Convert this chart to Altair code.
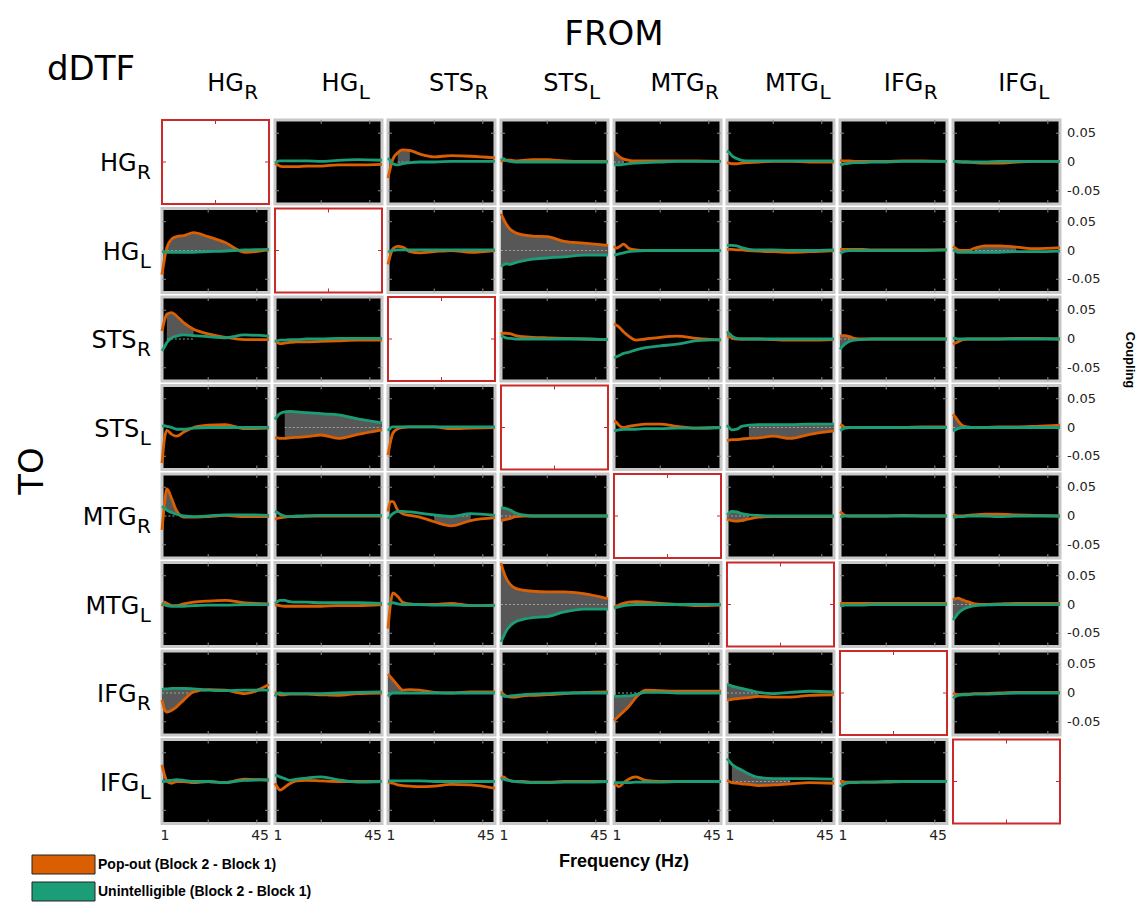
import altair as alt
import pandas as pd

# ---------------- data (values in thousandths of coupling units) ----------------
FREQS = [1, 2, 3, 5, 7, 10, 14, 20, 27, 35, 45]
AREAS = ["HG", "HG", "STS", "STS", "MTG", "MTG", "IFG", "IFG"]
SIDES = ["R", "L", "R", "L", "R", "L", "R", "L"]
Y_TICKS = [0.05, 0.0, -0.05]
Y_TICK_LABELS = ["0.05", "0", "-0.05"]
X_TICK_FREQS = [1, 45]
X_TICK_LABELS = ["1", "45"]
X_MINOR = [20, 40]
LEGEND_LABELS = ["Pop-out (Block 2 - Block 1)", "Unintelligible (Block 2 - Block 1)"]
ORANGE = "#d95f02"
GREEN = "#1b9e77"

# rows = TO region, items = FROM region (None = diagonal)
POPOUT_HG_R = [None,
    [-3, -5, -7, -8, -8, -8, -7, -7, -5, -5, -4],
    [-28, -10, 5, 16, 21, 20, 14, 9, 11, 10, 7],
    [0, 3, 3, 3, 2, 3, 4, 4, 2, 1, 1],
    [17, 14, 10, 5, 3, 2, 2, 2, 2, 2, 1],
    [-1, -2, -3, -3, -2, -1, 0, 1, 1, 0, 0],
    [3, 2, 2, 2, 1, 1, 1, 1, 2, 2, 1],
    [1, 1, 1, 0, 0, -1, -2, -2, 0, 1, 1]]
UNINT_HG_R = [None,
    [-2, 1, 2, 2, 2, 2, 2, 1, 3, 4, 3],
    [7, 2, -3, -5, -3, -1, 0, 0, 1, 1, 1],
    [3, 6, 3, 1, 0, 0, 0, 0, 0, 0, 0],
    [-5, -5, -5, -4, -3, -2, -1, 0, 1, 1, 1],
    [19, 16, 11, 6, 3, 2, 2, 2, 2, 2, 2],
    [-5, -4, -3, -2, -1, -1, 0, 0, 1, 1, 1],
    [1, 1, 0, 0, 0, 0, 0, 1, 1, 1, 1]]

POPOUT_HG_L = [
    [-42, -15, 5, 20, 24, 26, 31, 24, 14, -3, 1],
    None,
    [-24, -8, 3, 7, 6, -2, -4, -2, 0, -3, 0],
    [64, 55, 47, 36, 31, 27, 25, 24, 16, 13, 9],
    [8, 4, 6, 11, 4, 1, 0, 0, 0, 0, 0],
    [2, 2, 2, 1, 1, 0, -1, -2, -3, -2, 0],
    [2, 2, 2, 2, 2, 2, 1, 1, 1, 1, 1],
    [7, 4, 1, 0, 0, 4, 8, 8, 6, 3, 5]]
UNINT_HG_L = [
    [-2, -2, -3, -3, -3, -3, -3, -2, -1, 1, 2],
    None,
    [-3, -1, 0, 1, 1, 1, 1, 1, 1, 1, 1],
    [-28, -25, -23, -24, -21, -18, -15, -13, -11, -8, -8],
    [-8, -7, -6, -4, -2, -1, 0, 0, 0, 0, 0],
    [9, 9, 9, 8, 5, 2, 1, 1, 0, 0, 1],
    [-5, -3, -1, 0, 0, 0, 0, 0, 0, 0, 1],
    [1, -1, -3, -3, -3, -3, -3, -3, -2, -2, -1]]

POPOUT_STS_R = [
    [14, 32, 43, 46, 40, 28, 17, 9, 3, -1, -1],
    [-3, -6, -8, -7, -6, -5, -5, -4, -3, -2, -2],
    None,
    [8, 10, 10, 9, 6, 4, 3, 2, 1, 0, -1],
    [26, 24, 21, 12, 5, -2, 0, 3, 5, 1, -2],
    [5, 4, 2, 0, 0, 0, 0, -1, -2, -2, -1],
    [5, 6, 6, 4, 1, 0, 0, 0, 0, 0, 0],
    [-9, -7, -5, -1, 0, 0, 0, 0, 1, 1, 0]]
UNINT_STS_R = [
    [-21, -14, -6, 2, 5, 7, 6, 4, 2, 7, 5],
    [-4, -3, -2, -2, -1, -1, 0, 0, 1, 1, 1],
    None,
    [5, 4, 2, 1, 0, 0, 0, 0, 0, 0, -1],
    [-33, -31, -29, -25, -23, -19, -15, -12, -9, -3, -1],
    [13, 9, 5, 1, 0, 0, 0, 0, 0, 0, 0],
    [-18, -13, -9, -4, -2, -1, 0, 0, 0, 0, 0],
    [2, 1, 0, 0, 0, 0, 0, 0, 0, 0, 0]]

POPOUT_STS_L = [
    [-62, -20, -5, -12, -15, -8, 0, 4, 5, -2, -1],
    [-18, -18, -19, -19, -18, -17, -16, -13, -19, -12, -4],
    [-48, -25, -10, -2, 0, 1, 1, 1, -2, -1, 0],
    None,
    [11, 9, 4, 0, 2, 4, 6, 6, 2, -1, 0],
    [-23, -22, -21, -21, -20, -19, -18, -15, -19, -12, -6],
    [5, 3, 0, 0, 0, 0, 0, 0, 0, 1, 1],
    [23, 18, 12, 3, 1, 0, 0, 1, 1, 2, 4]]
UNINT_STS_L = [
    [2, 3, 2, 0, -3, -3, -1, 0, 0, 0, 0],
    [14, 20, 24, 27, 28, 27, 26, 24, 22, 15, 8],
    [-6, -1, 1, 1, 1, 1, 1, 1, 1, 1, 1],
    None,
    [-6, -5, -4, -3, -3, -3, -2, -2, -1, -1, 0],
    [4, -1, -4, -3, 2, 4, 5, 5, 5, 6, 6],
    [-5, -3, -1, 0, 0, 0, 0, 0, 0, 0, 0],
    [-6, -4, -2, 0, 0, 0, 0, 0, 0, 0, 0]]

POPOUT_MTG_R = [
    [-24, 20, 47, 30, 9, -2, -2, -1, 1, -1, -1],
    [-6, -4, -3, -2, -1, -1, 0, 0, 0, 0, 0],
    [8, 25, 25, 10, 4, 1, -2, -10, -17, -8, -3],
    [-8, -7, -6, -4, -1, 0, 0, 0, 0, 0, 0],
    None,
    [-5, -7, -8, -9, -8, -5, -2, -1, -1, -1, -1],
    [8, 4, 1, 0, 0, 0, 0, 0, 1, 0, 0],
    [2, 1, 0, 0, 1, 2, 3, 3, 2, 1, 0]]
UNINT_MTG_R = [
    [17, 14, 10, 6, 3, 0, -1, 0, 2, 2, 1],
    [8, 6, 3, 0, -1, 0, 0, 1, 1, 1, 1],
    [-5, 0, 4, 8, 8, 7, 5, 2, -1, 4, 1],
    [14, 14, 13, 10, 5, 2, 0, 0, 0, 0, 0],
    None,
    [2, 6, 8, 7, 4, 2, 1, 0, 0, 0, 0],
    [-1, -1, 0, 0, 0, 0, 0, 0, 0, 0, 0],
    [-2, -2, -1, -1, 0, 0, 0, -1, 0, 0, 0]]

POPOUT_MTG_L = [
    [-3, 4, 2, -2, -2, 1, 4, 6, 7, 3, 1],
    [-2, -1, -2, -3, -3, -3, -3, -3, -2, -2, 0],
    [-42, 0, 20, 14, 4, 1, 0, 0, 2, -2, -1],
    [72, 58, 47, 34, 28, 25, 23, 22, 22, 19, 10],
    [-5, -3, -1, 2, 4, 5, 4, 2, 0, -2, -1],
    None,
    [2, 2, 2, 2, 2, 2, 2, 2, 2, 2, 2],
    [8, 10, 11, 8, 5, 1, 0, 1, 2, 2, 2]]
UNINT_MTG_L = [
    [2, 0, -2, -3, -3, -3, -2, -1, -1, 0, 0],
    [2, 5, 7, 7, 5, 4, 4, 3, 3, 3, 2],
    [0, 2, 3, 1, 0, 0, 0, -1, -1, -2, -2],
    [-65, -56, -47, -36, -30, -26, -23, -21, -13, -8, -8],
    [-6, -5, -4, -2, -1, 0, 0, 0, 0, 0, 0],
    None,
    [-2, -2, -1, -1, -1, -1, 0, 0, 0, 0, 0],
    [-27, -22, -16, -9, -5, -2, -1, 0, 0, 0, 0]]

POPOUT_IFG_R = [
    [-12, -28, -33, -30, -24, -12, 2, 6, 5, -1, 15],
    [2, -1, -3, -3, -2, -2, -2, -3, -4, -1, 0],
    [33, 28, 23, 13, 5, 6, 5, 1, 0, 2, 2],
    [3, -2, -5, -7, -7, -5, -4, -3, -1, 1, 2],
    [-48, -44, -40, -32, -24, -8, 5, 4, 3, 3, 3],
    [-12, -12, -11, -10, -9, -8, -6, -7, -7, -4, -3],
    None,
    [0, -2, -3, -2, -2, -1, -1, 0, 1, 1, 1]]
UNINT_IFG_R = [
    [6, 7, 7, 8, 8, 8, 7, 5, 4, 5, 5],
    [-6, -1, 0, -1, -1, -1, -1, -1, 0, 1, 2],
    [-6, -2, 0, 0, 0, 0, 0, 0, 0, 0, 0],
    [-1, -5, -6, -5, -4, -3, -2, -1, 0, 0, 0],
    [-6, -6, -6, -5, -5, -3, 1, 1, 0, 0, 0],
    [15, 14, 12, 10, 8, 5, 1, -1, 1, 3, 2],
    None,
    [-9, -6, -4, -3, -3, -2, -2, -1, 0, 0, 0]]

POPOUT_IFG_L = [
    [29, 12, 1, -3, 0, 0, -2, 0, -2, 4, 2],
    [-3, -10, -15, -10, -4, 1, 2, 1, 0, 0, 0],
    [-1, -2, -3, -6, -7, -8, -9, -8, -5, -6, -12],
    [5, 8, 5, 1, 0, 0, -1, -1, 0, 0, 0],
    [-3, -6, -9, -2, 4, 8, 2, 0, 0, 0, 0],
    [2, 0, -2, -3, -4, -5, -7, -6, -4, -2, -3],
    [0, 0, -1, -1, -1, -1, -1, -1, 0, 0, 0],
    None]
UNINT_IFG_L = [
    [0, 0, 1, 2, 3, 2, 0, 0, -2, 2, 3],
    [11, 10, 8, 5, 2, 4, 6, 8, 3, -1, 0],
    [1, 1, 1, 1, 1, 1, 1, 0, 0, 0, 0],
    [3, 4, 3, 1, 0, -1, -2, -2, -1, -1, 0],
    [-2, -2, -2, -2, -2, -1, -1, -1, 0, 0, 0],
    [40, 35, 30, 24, 20, 13, 7, 5, 5, 5, 4],
    [-9, -6, -4, -2, -2, -1, -1, 0, 0, 0, 0],
    None]

# frequency ranges (Hz) shaded between the two curves
FILL_HG_R = [None, None, (5, 10), None, (1, 5), None, None, None]
FILL_HG_L = [(3, 35), None, None, (1, 45), None, None, None, (10, 27)]
FILL_STS_R = [(3, 14), None, None, None, None, (1, 5), (1, 7), None]
FILL_STS_L = [None, (5, 45), None, None, None, (10, 45), None, (1, 5)]
FILL_MTG_R = [(2, 7), None, (20, 35), (1, 7), None, (1, 10), None, None]
FILL_MTG_L = [None, None, None, (1, 45), None, None, None, (1, 10)]
FILL_IFG_R = [(1, 14), None, (1, 7), None, (1, 14), (1, 14), None, None]
FILL_IFG_L = [None, None, None, None, None, (3, 27), None, None]

POPOUT = [POPOUT_HG_R, POPOUT_HG_L, POPOUT_STS_R, POPOUT_STS_L,
          POPOUT_MTG_R, POPOUT_MTG_L, POPOUT_IFG_R, POPOUT_IFG_L]
UNINT = [UNINT_HG_R, UNINT_HG_L, UNINT_STS_R, UNINT_STS_L,
         UNINT_MTG_R, UNINT_MTG_L, UNINT_IFG_R, UNINT_IFG_L]
FILLS = [FILL_HG_R, FILL_HG_L, FILL_STS_R, FILL_STS_L,
         FILL_MTG_R, FILL_MTG_L, FILL_IFG_R, FILL_IFG_L]

# ---------------- layout (pixel geometry of the reference) ----------------
LEFT_PX, TOP_PX = 162, 120
PANEL_W, PANEL_H = 107, 84
STEP_X, STEP_Y = 113, 88.5
HALF = 0.073
W, H = 1131, 894
F_MIN, F_MAX = 1, 45
KX = PANEL_W / (F_MAX - F_MIN)
KY = PANEL_H / (2 * HALF)
COL_STEP = STEP_X / KX
ROW_STEP = STEP_Y / KY
TICK_LEN = 4  # px


def xd(px):
    return F_MIN + (px - LEFT_PX) / KX


def yd(py):
    return HALF - (py - TOP_PX) / KY


XS = alt.Scale(domain=[xd(8), xd(8 + W)], nice=False, zero=False)
YS = alt.Scale(domain=[yd(8 + H), yd(8)], nice=False, zero=False)


def ex(field="X"):
    return alt.X(f"{field}:Q", scale=XS, axis=None)


def ey(field="Y"):
    return alt.Y(f"{field}:Q", scale=YS, axis=None)


# ---------------- tables ----------------
panel_rows, curve_rows, fill_rows, zero_rows = [], [], [], []
vtick_rows, htick_rows = [], []
for r in range(8):
    base = -r * ROW_STEP
    for c in range(8):
        off = c * COL_STEP
        pid = f"{r}-{c}"
        diag = (r == c)
        kind = "diag" if diag else "off"
        panel_rows.append(dict(X=off + F_MIN, X2=off + F_MAX, Y=base + HALF, Y2=base - HALF,
                               diag=diag))
        dy = TICK_LEN / KY
        dx = TICK_LEN / KX
        xs = [off + (F_MIN + F_MAX) / 2] if diag else [off + f for f in X_MINOR]
        ys = [base] if diag else [base + Y_TICKS[0], base + Y_TICKS[2]]
        for xv in xs:
            vtick_rows.append(dict(X=xv, Y=base + HALF, Y2=base + HALF - dy, kind=kind))
            vtick_rows.append(dict(X=xv, Y=base - HALF, Y2=base - HALF + dy, kind=kind))
        for yv in ys:
            htick_rows.append(dict(X=off + F_MIN, X2=off + F_MIN + dx, Y=yv, kind=kind))
            htick_rows.append(dict(X=off + F_MAX, X2=off + F_MAX - dx, Y=yv, kind=kind))
        pop, uni = POPOUT[r][c], UNINT[r][c]
        if pop is None:
            continue
        rng = FILLS[r][c]
        for f, a, b in zip(FREQS, pop, uni):
            curve_rows.append(dict(panel=pid, X=off + f, Yo=base + a / 1000, Yg=base + b / 1000))
            if rng is not None and rng[0] <= f <= rng[1]:
                fill_rows.append(dict(panel=pid, X=off + f, Yo=base + a / 1000, Yg=base + b / 1000))
        if rng is not None:
            zero_rows.append(dict(X=off + rng[0], X2=off + rng[1], Y=base))

panels = pd.DataFrame(panel_rows)
curves = pd.DataFrame(curve_rows)
fills = pd.DataFrame(fill_rows)
zeros = pd.DataFrame(zero_rows)
vticks = pd.DataFrame(vtick_rows)
hticks = pd.DataFrame(htick_rows)

CW = {"H": 0.752, "G": 0.775, "S": 0.635, "T": 0.611, "M": 0.863, "I": 0.295,
      "F": 0.575, "R": 0.695, "L": 0.557}
MAIN_SIZE, SUB_SIZE = 24, 20


def tw(s, size):
    return sum(CW[ch] for ch in s) * size


col_main, col_sub, row_main, row_sub = [], [], [], []
for i, (a, s) in enumerate(zip(AREAS, SIDES)):
    wm, ws = tw(a, MAIN_SIZE), tw(s, SUB_SIZE)
    pc = LEFT_PX + i * STEP_X + PANEL_W / 2
    left = pc + 17 - (wm + ws) / 2
    col_main.append(dict(X=xd(left), Y=yd(91), text=a))
    col_sub.append(dict(X=xd(left + wm + 0.5), Y=yd(99), text=s))
    rc = TOP_PX + i * STEP_Y + PANEL_H / 2
    row_sub.append(dict(X=xd(151), Y=yd(rc + 17), text=s))
    row_main.append(dict(X=xd(151 - ws - 0.5), Y=yd(rc + 9), text=a))

ytick_rows = []
for r in range(7):
    for v, lab in zip(Y_TICKS, Y_TICK_LABELS):
        ytick_rows.append(dict(X=xd(1067), Y=-r * ROW_STEP + v, text=lab))

xtick_left, xtick_right = [], []
for c in range(7):
    xtick_left.append(dict(X=c * COL_STEP + X_TICK_FREQS[0] + 1.2, Y=yd(836), text=X_TICK_LABELS[0]))
    xtick_right.append(dict(X=c * COL_STEP + X_TICK_FREQS[1], Y=yd(836), text=X_TICK_LABELS[1]))

legend_boxes = pd.DataFrame([
    dict(X=xd(32), X2=xd(95), Y=yd(855), Y2=yd(874), col=ORANGE),
    dict(X=xd(32), X2=xd(95), Y=yd(882), Y2=yd(901), col=GREEN),
])
legend_text = pd.DataFrame([
    dict(X=xd(98), Y=yd(865), text=LEGEND_LABELS[0]),
    dict(X=xd(98), Y=yd(892), text=LEGEND_LABELS[1]),
])


def text_layer(rows, **kw):
    return alt.Chart(pd.DataFrame(rows)).mark_text(**kw).encode(x=ex(), y=ey(), text="text:N")


FONT = "DejaVu Sans"
BOLD = "Liberation Sans"
TICK_COLOR = alt.Color("kind:N", scale=alt.Scale(domain=["off", "diag"], range=["#8f8f8f", "#cc2a2a"]),
                       legend=None)

layers = [
    alt.Chart(panels[~panels.diag]).mark_rect(fill="black", stroke="#c8c8c8", strokeWidth=3).encode(
        x=ex(), x2="X2:Q", y=ey(), y2="Y2:Q"),
    alt.Chart(panels[panels.diag]).mark_rect(fill="white", stroke="#cc2a2a", strokeWidth=2).encode(
        x=ex(), x2="X2:Q", y=ey(), y2="Y2:Q"),
    alt.Chart(vticks).mark_rule(strokeWidth=1).encode(x=ex(), y=ey(), y2="Y2:Q", color=TICK_COLOR),
    alt.Chart(hticks).mark_rule(strokeWidth=1).encode(x=ex(), x2="X2:Q", y=ey(), color=TICK_COLOR),
    alt.Chart(fills).mark_area(interpolate="monotone", color="#575757", opacity=1).encode(
        x=ex(), y=ey("Yo"), y2="Yg:Q", detail="panel:N"),
    alt.Chart(zeros).mark_rule(color="#a0a0a0", strokeWidth=1, strokeDash=[2, 2]).encode(
        x=ex(), x2="X2:Q", y=ey()),
    alt.Chart(curves).mark_line(interpolate="monotone", color=ORANGE, strokeWidth=2.8).encode(
        x=ex(), y=ey("Yo"), detail="panel:N"),
    alt.Chart(curves).mark_line(interpolate="monotone", color=GREEN, strokeWidth=2.8).encode(
        x=ex(), y=ey("Yg"), detail="panel:N"),
    text_layer(col_main, font=FONT, fontSize=MAIN_SIZE, align="left", baseline="alphabetic"),
    text_layer(col_sub, font=FONT, fontSize=SUB_SIZE, align="left", baseline="alphabetic"),
    text_layer(row_main, font=FONT, fontSize=MAIN_SIZE, align="right", baseline="alphabetic"),
    text_layer(row_sub, font=FONT, fontSize=SUB_SIZE, align="right", baseline="alphabetic"),
    text_layer([dict(X=xd(614), Y=yd(45), text="FROM")], font=FONT, fontSize=34,
               align="center", baseline="alphabetic"),
    text_layer([dict(X=xd(47), Y=yd(80), text="dDTF")], font=FONT, fontSize=34,
               align="left", baseline="alphabetic"),
    text_layer([dict(X=xd(33), Y=yd(471), text="TO")], font=FONT, fontSize=34,
               align="center", baseline="middle", angle=270),
    text_layer(ytick_rows, font=FONT, fontSize=13, align="left", baseline="middle", color="#222222"),
    text_layer(xtick_left, font=FONT, fontSize=14, align="center", baseline="middle", color="#222222"),
    text_layer(xtick_right, font=FONT, fontSize=14, align="right", baseline="middle", color="#222222"),
    text_layer([dict(X=xd(1130), Y=yd(360), text="Coupling")], font=BOLD, fontSize=13,
               fontWeight="bold", align="center", baseline="middle", angle=90),
    text_layer([dict(X=xd(624), Y=yd(862), text="Frequency (Hz)")], font=BOLD, fontSize=18,
               fontWeight="bold", align="center", baseline="middle"),
    alt.Chart(legend_boxes).mark_rect(stroke="#222222", strokeWidth=1).encode(
        x=ex(), x2="X2:Q", y=ey(), y2="Y2:Q", color=alt.Color("col:N", scale=None)),
    alt.Chart(legend_text).mark_text(font=BOLD, fontSize=14, fontWeight="bold", align="left",
                                     baseline="middle").encode(x=ex(), y=ey(), text="text:N"),
]

chart = alt.layer(*layers).properties(
    width=W, height=H, padding=0, autosize=alt.AutoSizeParams(type="none")
).configure_view(stroke=None)

chart.save("out.html", embed_options={"renderer": "svg", "actions": False})
